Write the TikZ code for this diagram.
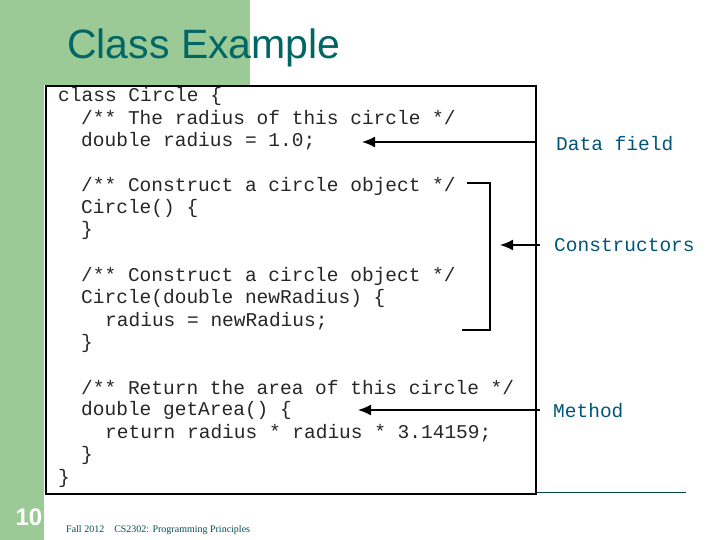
\documentclass[tikz,border=0pt]{standalone}
\usetikzlibrary{arrows.meta}
\usepackage{fontspec}
\setmainfont{Liberation Serif}
\newfontfamily\arialf{Liberation Sans}
\newfontfamily\monof{Liberation Mono}
\definecolor{bggreen}{RGB}{155,202,150}
\definecolor{teal1}{RGB}{0,102,102}
\definecolor{lbl}{RGB}{0,85,120}
\begin{document}
\begin{tikzpicture}[x=1pt,y=1pt,
  code/.style={anchor=west,inner sep=0pt,font=\monof\fontsize{19.5}{20}\selectfont,text=black!85},
  lab/.style={anchor=west,inner sep=0pt,font=\monof\fontsize{19.5}{20}\selectfont,text=lbl},
  arr/.style={draw=black,line width=1.6pt,-{Latex[length=13pt,width=11pt]}}]
\useasboundingbox (0,0) rectangle (720,-540);
\fill[white] (0,0) rectangle (720,-540);
\fill[bggreen] (0,0) rectangle (250,-85);
\fill[bggreen] (0,0) rectangle (44,-540);
\node[anchor=west,inner sep=0pt,font=\arialf\fontsize{41}{41}\selectfont,text=teal1] (title) at (67,-48) {Class Example};
\draw[teal1!70!black,line width=1pt] (535,-492) -- (686,-492);
\node[draw=black,line width=1.6pt,fill=white,minimum width=490pt,minimum height=408pt,anchor=north west,inner sep=0pt] (box) at (45,-85) {};
\node[code] (c1) at (58,-96) {class Circle \{};
\node[code] (c2) at (81,-118) {/** The radius of this circle */};
\node[code] (c3) at (81,-141) {double radius = 1.0;};
\node[code] (c4) at (81,-186) {/** Construct a circle object */};
\node[code] (c5) at (81,-208) {Circle() \{};
\node[code] (c6) at (81,-230) {\}};
\node[code] (c7) at (81,-276) {/** Construct a circle object */};
\node[code] (c8) at (81,-298) {Circle(double newRadius) \{};
\node[code] (c9) at (105,-321) {radius = newRadius;};
\node[code] (c10) at (81,-343) {\}};
\node[code] (c11) at (81,-388) {/** Return the area of this circle */};
\node[code] (c12) at (81,-410) {double getArea() \{};
\node[code] (c13) at (105,-433) {return radius * radius * 3.14159;};
\node[code] (c14) at (81,-455) {\}};
\node[code] (c15) at (58,-478) {\}};
\node[lab] (l1) at (556,-144) {Data field};
\node[lab] (l2) at (554,-245) {Constructors};
\node[lab] (l3) at (553,-411) {Method};
\coordinate (a1s) at (537,-142); \coordinate (a1e) at (362,-142);
\coordinate (a2s) at (540,-245); \coordinate (a2e) at (500,-245);
\coordinate (a3s) at (540,-410); \coordinate (a3e) at (358,-410);
\draw[arr] (a1s) -- (a1e);
\draw[arr] (a2s) -- (a2e);
\draw[arr] (a3s) -- (a3e);
\draw[line width=1.6pt] (467,-183) -- (490,-183) -- (490,-330) -- (462,-330);
\node[anchor=center,inner sep=0pt,font=\arialf\bfseries\fontsize{24}{24}\selectfont,text=white] (num) at (29,-517) {10};
\node[anchor=west,inner sep=0pt,font=\fontsize{10}{10}\selectfont,text=teal1!80!black] (foot) at (66,-530) {Fall 2012\quad CS2302: Programming Principles};
\end{tikzpicture}
\end{document}
